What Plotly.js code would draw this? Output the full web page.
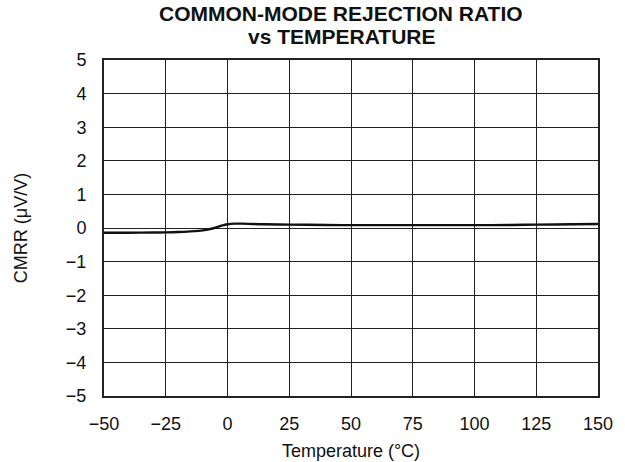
<!DOCTYPE html>
<html>
<head>
<meta charset="utf-8">
<script src="https://cdn.plot.ly/plotly-3.0.1.min.js"></script>
<style>html,body{margin:0;padding:0;background:#fff;}#chart{width:625px;height:462px;}</style>
</head>
<body>
<div id="chart"></div>
<script>
const temperature = [-50, -40, -30, -25, -20, -15, -10, -7, -4, -2, 0, 3, 6, 10, 15, 25, 40, 50, 75, 100, 115, 125, 140, 150];
const cmrr = [-0.14, -0.14, -0.135, -0.13, -0.12, -0.1, -0.07, -0.03, 0.03, 0.08, 0.11, 0.13, 0.13, 0.12, 0.11, 0.1, 0.09, 0.085, 0.085, 0.085, 0.09, 0.1, 0.11, 0.12];
const xTicks = [-50, -25, 0, 25, 50, 75, 100, 125, 150];
const xTickText = ['\u221250', '\u221225', '0', '25', '50', '75', '100', '125', '150'];
const yTicks = [-5, -4, -3, -2, -1, 0, 1, 2, 3, 4, 5];
const yTickText = ['\u22125', '\u22124', '\u22123', '\u22122', '\u22121', '0', '1', '2', '3', '4', '5'];
const titleLines = ['COMMON-MODE REJECTION RATIO', 'vs TEMPERATURE'];

const font = 'Liberation Sans, Arial, sans-serif';
Plotly.newPlot('chart', [{
  x: temperature, y: cmrr, type: 'scatter', mode: 'lines',
  line: {color: '#111', width: 2.4, shape: 'spline', smoothing: 0.8},
  hoverinfo: 'skip'
}], {
  width: 625, height: 462,
  margin: {l: 104, r: 27, t: 60, b: 66},
  paper_bgcolor: '#fff', plot_bgcolor: '#fff',
  showlegend: false,
  annotations: [
    {text: '<b>' + titleLines[0] + '</b>', xref: 'paper', yref: 'paper', x: 0.48, xanchor: 'center',
      y: 1.137, yanchor: 'middle', showarrow: false, font: {family: font, size: 21, color: '#111'}},
    {text: '<b>' + titleLines[1] + '</b>', xref: 'paper', yref: 'paper', x: 0.48, xanchor: 'center',
      y: 1.071, yanchor: 'middle', showarrow: false, font: {family: font, size: 21, color: '#111'}}
  ],
  xaxis: {range: [-50, 150], tickvals: xTicks, ticktext: xTickText, showgrid: true, gridcolor: '#222', gridwidth: 1,
    zeroline: false, showline: true, linecolor: '#222', linewidth: 2, mirror: true, ticks: '', ticklen: 0,
    ticklabelstandoff: 10,
    tickfont: {family: font, size: 18, color: '#111'},
    title: {text: 'Temperature (°C)', font: {family: font, size: 18, color: '#111'}, standoff: 12}},
  yaxis: {range: [-5, 5], tickvals: yTicks, ticktext: yTickText, showgrid: true, gridcolor: '#222', gridwidth: 1,
    zeroline: false, showline: true, linecolor: '#222', linewidth: 2, mirror: true, ticks: '', ticklen: 0,
    ticklabelstandoff: 12,
    tickfont: {family: font, size: 18, color: '#111'},
    title: {text: 'CMRR (\u03BCV/V)', font: {family: font, size: 18, color: '#111'}, standoff: 34}}
}, {staticPlot: true});
</script>
</body>
</html>
